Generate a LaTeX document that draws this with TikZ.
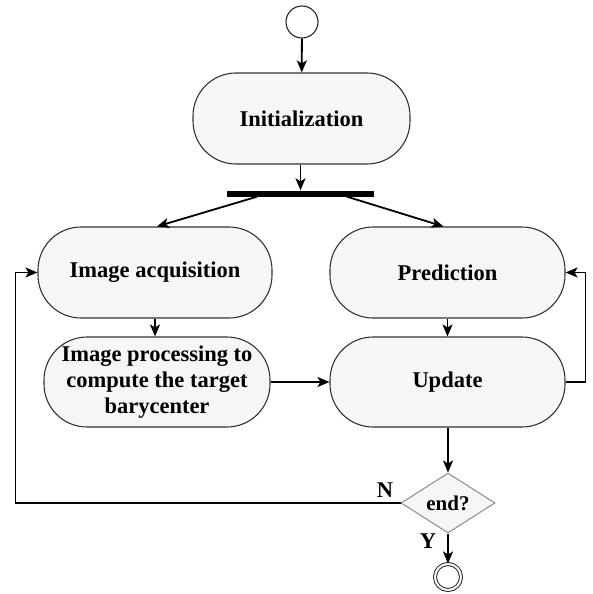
\documentclass[tikz,border=0pt]{standalone}
\usepackage{fontspec}
\setmainfont{Liberation Serif}
\usetikzlibrary{arrows.meta,shapes.geometric}
\begin{document}
\begin{tikzpicture}[x=1pt,y=-1pt,
  every node/.style={font=\bfseries\fontsize{22.5}{26}\selectfont},
  stage/.style={draw=black!80, line width=1.1pt, fill=gray!7,
    rounded corners=43pt, minimum height=91pt, inner sep=0pt, align=center},
  flow/.style={line width=1.8pt, -{Stealth[length=12pt,width=10pt,inset=3pt]}},
  tag/.style={inner sep=0pt}]
\useasboundingbox (0,0) rectangle (592,594);

% initial and final states
\node[circle, draw=black!85, line width=1.1pt, fill=white, minimum size=32pt, inner sep=0pt] (start) at (302,22) {};
\node[circle, draw=black!85, line width=1pt, fill=white, minimum size=26pt, inner sep=0pt,
      double, double distance=2pt] (stop) at (448,577) {};

% activities
\node[stage, minimum width=217pt] (init) at (301.5,118.5) {Initialization};
\node[fill=black, minimum width=147pt, minimum height=6pt, inner sep=0pt] (bar) at (300.5,193.5) {};
\node[stage, minimum width=234pt] (acq)  at (155,272.5) {Image acquisition};
\node[stage, minimum width=235pt] (pred) at (447.5,272.5) {Prediction};
\node[stage, minimum width=226pt, minimum height=90pt] (proc) at (157,382) {Image processing to\\compute the target\\barycenter};
\node[stage, minimum width=235pt, minimum height=90pt] (upd)  at (447.5,382) {Update};

% decision
\node[diamond, draw=black!45, line width=1pt, fill=gray!7, minimum width=94pt, minimum height=60pt,
      inner sep=0pt, font=\bfseries\fontsize{21}{24}\selectfont] (dec) at (448,503) {end?};

% connectors
\draw[flow] (start) -- (init);
\draw[flow] (init.south -| bar) -- (bar.north);
\draw[flow] ([xshift=-43.5pt]bar.south) -- ([xshift=2pt]acq.north);
\draw[flow] ([xshift=46.5pt]bar.south) -- ([xshift=-4pt]pred.north);
\draw[flow] (acq) -- (proc.north -| acq);
\draw[flow] (pred) -- (upd);
\draw[flow] (proc) -- (upd);
\draw[flow] (upd.east) -- ++(20,0) |- (pred.east);
\draw[flow] (upd.south -| dec) -- (dec.north);
\draw[flow] (dec.west) -- ++(-385,0) |- (acq.west);
\draw[flow] (dec.south) -- (stop.north);

% branch labels
\node[tag] (no)  at (385,490) {N};
\node[tag] (yes) at (428,541) {Y};
\end{tikzpicture}
\end{document}
